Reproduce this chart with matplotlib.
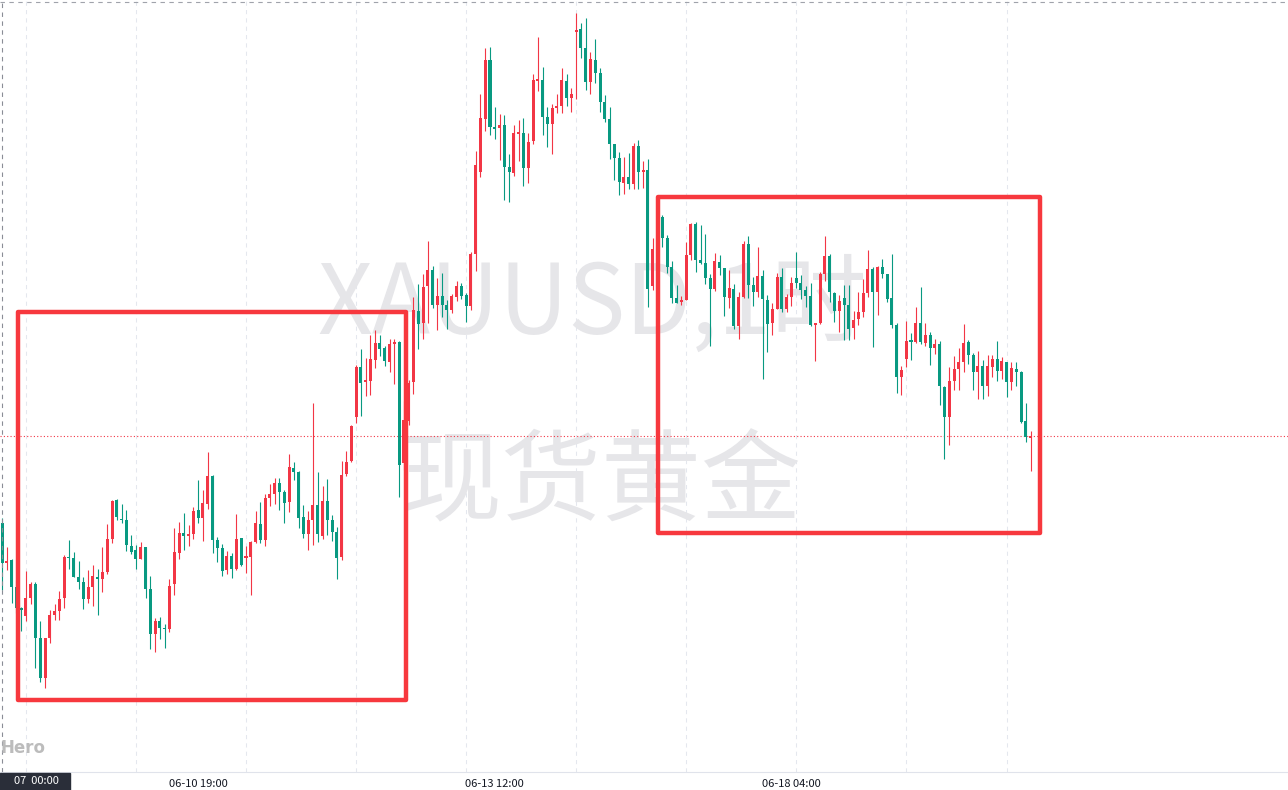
import numpy as np
import matplotlib
matplotlib.use('Agg')
import matplotlib.pyplot as plt
from matplotlib.patches import Rectangle

plt.rcParams['font.family'] = ['Noto Sans CJK SC', 'DejaVu Sans']

# XAUUSD 1h candles
opens = [
    3324.25, 3314.25, 3315, 3308.25, 3303, 3301, 3305.5, 3309, 3295.5, 3285.5,
    3295.5, 3301.25, 3302.25, 3305.5, 3315.75, 3315.5, 3310.75, 3309.5, 3305.25, 3308.25,
    3310.75, 3310.25, 3312, 3320.25, 3330, 3325.25, 3325, 3318.5, 3317.5, 3315.25,
    3318.25, 3307.75, 3296.5, 3299.75, 3298, 3297.75, 3309, 3316.75, 3321.75, 3321.125,
    3321.5, 3327.5, 3325.5, 3329, 3336, 3320, 3318, 3312.5, 3316, 3312.75,
    3320.5, 3315.625, 3315.75, 3319.5, 3324, 3320, 3330.5, 3331.5, 3334.25, 3332,
    3329.5, 3338, 3337, 3325.75, 3321.5, 3325, 3328.75, 3321, 3329.75, 3325,
    3322, 3315.75, 3336.5, 3339.75, 3350.75, 3363.25, 3359.625, 3359.75, 3365, 3369.25,
    3368, 3364.5, 3369, 3369.5, 3339.25, 3349.75, 3359.5, 3377.25, 3374.25, 3383.5,
    3387.5, 3378.75, 3381, 3378.75, 3377.5, 3380.75, 3383.5, 3381.25, 3378.5, 3391.5,
    3412, 3425.25, 3440, 3423.25, 3423, 3423.75, 3413.25, 3411.75, 3421.625, 3421.75,
    3413, 3419.75, 3434.875, 3435, 3425.75, 3424, 3428.125, 3428.5, 3434.75, 3430.5,
    3447.125, 3447.75, 3443, 3434.5, 3440, 3436.75, 3429.5, 3425.25, 3419, 3415.5,
    3409.25, 3410.75, 3409, 3418.5, 3412.125, 3412.5, 3383.5, 3392.75, 3400.75, 3395.5,
    3388.25, 3380.5, 3379.5, 3380, 3391.25, 3399, 3390, 3389.25, 3385.5, 3382.75,
    3389.5, 3388, 3380.5, 3382.75, 3373.5, 3380.75, 3394, 3383.75, 3382, 3386,
    3380, 3374.25, 3377.75, 3385.75, 3377.75, 3380.75, 3385.5, 3384.25, 3382.5, 3381,
    3373.875, 3374.25, 3386.5, 3391, 3381.75, 3377.25, 3380.5, 3378.75, 3373, 3375.25,
    3377, 3381.75, 3387.75, 3382, 3388.25, 3386.5, 3380.5, 3373.75, 3360.75, 3365.25,
    3369.75, 3369.5, 3374.25, 3369.25, 3371.25, 3368, 3369, 3358.25, 3350.75, 3359.75,
    3362.75, 3364.5, 3369.5, 3366.25, 3362, 3363.5, 3358.5, 3363.25, 3365.25, 3362.25,
    3364.5, 3359.5, 3362.75, 3362, 3349.75, 3345.625,
]
highs = [
    3325.5, 3318.25, 3315.25, 3310, 3303.25, 3312.25, 3309.5, 3309.5, 3299.75, 3295.5,
    3302.5, 3304, 3307.25, 3316.25, 3320, 3317, 3314.75, 3310.75, 3312.5, 3313.75,
    3312.75, 3318.25, 3324, 3330, 3330.25, 3329, 3327.5, 3321.25, 3318.75, 3319.5,
    3318.25, 3311, 3300.5, 3300.75, 3299, 3310.25, 3323, 3324.5, 3326.75, 3323.75,
    3328.25, 3335, 3332.5, 3342, 3336.25, 3320.75, 3319, 3317.25, 3316.75, 3326.5,
    3320.5, 3318.5, 3319.75, 3327.25, 3329.5, 3331.5, 3334, 3335.5, 3335.5, 3332.5,
    3341.5, 3339.5, 3337.25, 3328.75, 3327.25, 3354.25, 3337, 3333.5, 3335.25, 3326.25,
    3323.25, 3339.75, 3342.25, 3348.75, 3363.75, 3367.75, 3365.5, 3371.25, 3372.5, 3371.25,
    3368.5, 3370.25, 3370.25, 3369.75, 3354.75, 3360, 3380.75, 3384, 3386.5, 3394.75,
    3388.5, 3385.5, 3386.75, 3380, 3381.5, 3384.75, 3384.25, 3381.75, 3392, 3417.25,
    3431.5, 3443, 3443.25, 3428.25, 3426.5, 3426.25, 3416.5, 3423.75, 3425, 3425.5,
    3421.75, 3436.5, 3445.75, 3438.25, 3428.25, 3429, 3431.5, 3438, 3436.5, 3433,
    3451.75, 3449.25, 3450.5, 3442, 3445.25, 3438, 3431.25, 3428.25, 3419, 3417,
    3415.75, 3416.75, 3419.25, 3420, 3414.75, 3415.25, 3395.5, 3401.5, 3401.25, 3396.25,
    3389.75, 3383.75, 3381, 3394.5, 3399.25, 3399.5, 3398.75, 3396.5, 3386.5, 3391.75,
    3391.25, 3388, 3387.5, 3384, 3382, 3394.75, 3396, 3385.75, 3393.25, 3387.5,
    3381.25, 3379.25, 3386.75, 3388, 3381.5, 3385.75, 3392, 3386.25, 3383.5, 3384.25,
    3374.25, 3387, 3396, 3391.5, 3382, 3381.25, 3383.75, 3383.75, 3377.25, 3382,
    3385.25, 3392.5, 3388.25, 3388.5, 3390.25, 3386.5, 3391.5, 3374.25, 3363.5, 3374.75,
    3371.75, 3378.25, 3383.25, 3374.25, 3372, 3370.25, 3369.75, 3358.5, 3363.25, 3366,
    3368, 3374, 3370, 3366.75, 3367.25, 3365, 3366.25, 3366.25, 3369.75, 3365.75,
    3364.5, 3364.5, 3364.5, 3362.25, 3354.25, 3347.25,
]
lows = [
    3307.5, 3312.5, 3304.25, 3301.75, 3297.25, 3299.75, 3304, 3288, 3284.5, 3283,
    3294.25, 3300, 3300, 3303, 3312.75, 3310.75, 3307.75, 3302.75, 3304.25, 3303.5,
    3301.25, 3307, 3311.5, 3319.25, 3325, 3324.25, 3317.25, 3316.5, 3312.75, 3315.25,
    3305.5, 3292.75, 3292, 3295.25, 3293, 3297, 3306.25, 3315.25, 3317.5, 3318.5,
    3320.25, 3324.25, 3319.75, 3327.75, 3316.75, 3314.5, 3311, 3311.5, 3310.5, 3312.5,
    3313.5, 3311.75, 3306.25, 3319.25, 3319.25, 3318.5, 3328.5, 3329, 3327.5, 3324.25,
    3327, 3335, 3323, 3320.5, 3317.5, 3318.75, 3319.5, 3320.25, 3321.25, 3319.75,
    3310.25, 3315, 3336, 3339.5, 3349.25, 3351, 3356, 3356.25, 3363, 3366,
    3363.5, 3362, 3359, 3330.75, 3337.5, 3348.75, 3356.5, 3367.75, 3370.25, 3374.25,
    3378, 3372.5, 3375.75, 3372.75, 3376.75, 3379.75, 3380.25, 3374.5, 3377.5, 3387.25,
    3410.75, 3422.25, 3421.25, 3420.25, 3415, 3405, 3404.5, 3411, 3414.75, 3408.5,
    3409.25, 3419, 3432.25, 3421.25, 3418.25, 3416.5, 3426.75, 3426.75, 3428.5, 3427,
    3430.25, 3440.5, 3432.5, 3431.5, 3434.25, 3427, 3424.5, 3415.25, 3410, 3406.25,
    3406.5, 3407.75, 3407.75, 3407.75, 3408, 3378.25, 3382.5, 3391.25, 3393.25, 3386.75,
    3379.25, 3379.25, 3378.75, 3380, 3390, 3387, 3389, 3384, 3368.5, 3382.25,
    3386.25, 3376, 3378, 3372.75, 3370.25, 3380.5, 3380.5, 3378.5, 3380.75, 3360.25,
    3367, 3371.25, 3377.75, 3377, 3377, 3378.5, 3383, 3380.25, 3378.25, 3373.5,
    3364.75, 3374, 3384.75, 3379.5, 3374.5, 3372, 3370, 3370, 3370.25, 3373.75,
    3375.75, 3380.75, 3368.25, 3376.25, 3385.5, 3379.5, 3373, 3356.75, 3356.25, 3363.25,
    3365, 3369.25, 3369, 3368.5, 3363.75, 3366.5, 3353.75, 3340.25, 3343.75, 3357.5,
    3357.5, 3362, 3364, 3357.5, 3355.25, 3355.25, 3356, 3360.75, 3359.75, 3360.25,
    3355.75, 3357.5, 3358.5, 3349.25, 3344.5, 3337.25,
]
closes = [
    3314.25, 3314.75, 3308.25, 3303, 3302.5, 3305.5, 3309, 3295.5, 3285.5, 3295.5,
    3301.25, 3302.25, 3305.25, 3315.75, 3315.5, 3310.75, 3309.5, 3305.25, 3308.25, 3311,
    3310.25, 3312, 3320.25, 3329.75, 3325.75, 3325, 3318.75, 3317, 3315.25, 3318.25,
    3307.75, 3296.5, 3299.75, 3298, 3297.75, 3308.5, 3317, 3321.75, 3321, 3321.25,
    3327.25, 3325.5, 3329.25, 3336, 3320, 3318, 3312.25, 3316, 3312.75, 3320.25,
    3313.75, 3315.75, 3319.5, 3324.25, 3320, 3330.5, 3331.5, 3334.25, 3332, 3329.25,
    3338.25, 3337, 3325.5, 3321.5, 3325, 3328.75, 3321.5, 3329.75, 3325, 3322,
    3315.5, 3336.25, 3339.5, 3348.5, 3363.25, 3359.25, 3359.75, 3365.25, 3369.25, 3367.75,
    3364.75, 3369, 3369.5, 3338.75, 3350, 3359.25, 3377.5, 3374, 3383.25, 3387.5,
    3378.75, 3381, 3378.75, 3377.5, 3381, 3383.5, 3381, 3378.5, 3391.5, 3413.75,
    3425.5, 3440, 3423.25, 3422.875, 3423.75, 3413.25, 3412, 3421.75, 3421.75, 3413,
    3419.5, 3435, 3435, 3425.75, 3424, 3428, 3428.25, 3435, 3430.5, 3431.5,
    3447.25, 3443, 3434.5, 3440.25, 3436.75, 3429.5, 3425.25, 3419, 3415.5, 3409.5,
    3410.75, 3409, 3418.5, 3412, 3412.25, 3382.75, 3392.75, 3400.5, 3395.5, 3388.25,
    3380.5, 3379.25, 3380, 3391.25, 3399, 3390, 3389.25, 3385.5, 3382.75, 3389.75,
    3388, 3380.75, 3383, 3373.5, 3380.75, 3394, 3383.75, 3382, 3386, 3380.25,
    3374, 3377.75, 3385.75, 3377.75, 3380.75, 3384.25, 3384.25, 3382.5, 3381, 3373.75,
    3374, 3386.5, 3391, 3382, 3377.25, 3379.75, 3378.75, 3372.75, 3375, 3377,
    3381.75, 3387.75, 3382, 3388.25, 3386.5, 3380.25, 3373.75, 3360.75, 3362.5, 3369.75,
    3369.625, 3374.25, 3369.5, 3371.25, 3368, 3369, 3358.5, 3350.75, 3359.75, 3362.75,
    3364.5, 3369.25, 3366.25, 3362, 3363.5, 3358.5, 3363.5, 3365.25, 3362.25, 3364.75,
    3359.5, 3363, 3362, 3349.5, 3345.75, 3346,
]

# time axis (bar index)
tick_pos = [41, 103, 165]
tick_labels = ['06-10 19:00', '06-13 12:00', '06-18 04:00']
day_lines = [5, 28, 51, 74, 97, 120, 143, 166, 189, 210]

# hand-drawn boxes: (first bar, last bar, low price, high price)
boxes = [(3.34, 84.43, 3280, 3377), (137.1, 216.9, 3321.75, 3405.75)]

up_col = '#f23645'
down_col = '#089981'

o = np.array(opens)
h = np.array(highs)
l = np.array(lows)
c = np.array(closes)
x = np.arange(len(o))
cols = np.where(c >= o, up_col, down_col)

fig = plt.figure(figsize=(12.88, 7.90), dpi=100)
ax = fig.add_axes([0, 18/790, 1, 772/790])
ax.set_xlim(-0.42, 268.8)
ax.set_ylim(3262, 3455)

for d in day_lines:
    ax.axvline(d, color='#e4e7ee', lw=0.75, ls=(0, (4, 4)), zorder=0)

ax.text(0.46, 0.603, 'XAUUSD,1时', transform=ax.transAxes, ha='center', va='center',
        fontsize=69, color='#e6e6e9', zorder=0)
ax.text(0.467, 0.372, '现货黄金', transform=ax.transAxes, ha='center', va='center',
        fontsize=72, color='#e6e6e9', zorder=0)

ax.vlines(x, l, h, colors=cols, lw=0.8, zorder=2)
body = np.maximum(np.abs(c - o), 0.3)
ax.bar(x, body, bottom=np.minimum(o, c), width=0.63, color=cols, lw=0, zorder=3)

# last price line
ax.axhline(c[-1], color=up_col, lw=0.8, ls=(0, (1, 2)), zorder=1)

for x0, x1, y0, y1 in boxes:
    ax.add_patch(Rectangle((x0, y0), x1 - x0, y1 - y0, fill=False, ec='#f7383e',
                           lw=3.2, joinstyle='round', zorder=4))

# crosshair
ax.axvline(0, color='#8a8d96', lw=0.8, ls=(0, (4, 4)), zorder=5)
ax.axhline(3454.5, color='#a0a3ab', lw=0.8, ls=(0, (4, 4)), zorder=5)

for s in ['top', 'left', 'right']:
    ax.spines[s].set_visible(False)
ax.spines['bottom'].set_color('#e0e3eb')
ax.set_yticks([])
ax.set_xticks(tick_pos)
ax.set_xticklabels(tick_labels)
ax.tick_params(axis='x', length=0, pad=5, labelsize=8, labelcolor='#131722')

fig.text(1/1288, 42/790, 'Hero', fontsize=12, fontweight='bold', color='#bcbcbc',
         family='DejaVu Sans', va='center')
fig.patches.append(Rectangle((0, 0), 70/1288, 17/790, transform=fig.transFigure,
                             color='#2a2e39', zorder=10))
fig.text(14/1288, 8.5/790, '07  00:00', fontsize=8, color='white', va='center', zorder=11)

fig.savefig('out.png', dpi=100)
